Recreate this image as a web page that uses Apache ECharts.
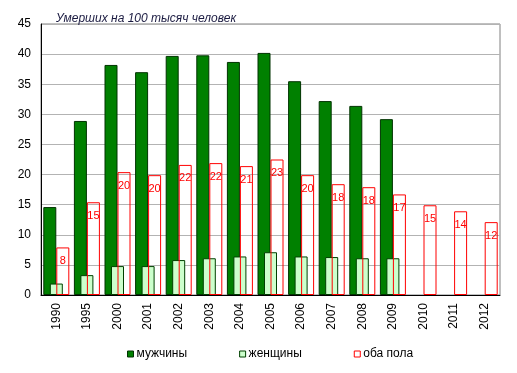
<!DOCTYPE html>
<html><head><meta charset="utf-8">
<script src="https://cdn.jsdelivr.net/npm/echarts@6/dist/echarts.min.js"></script>
<style>html,body{margin:0;padding:0;background:#fff}#c{width:517px;height:373px}</style>
</head><body><div id="c"></div>
<script>
const years = ['1990','1995','2000','2001','2002','2003','2004','2005','2006','2007','2008','2009','2010','2011','2012'];
const men   = [14.6, 28.9, 38.2, 37.0, 39.7, 39.8, 38.7, 40.2, 35.5, 32.2, 31.4, 29.2, null, null, null];
const women = [1.9, 3.3, 4.8, 4.8, 5.8, 6.1, 6.4, 7.1, 6.4, 6.3, 6.1, 6.1, null, null, null];
const both  = [7.9, 15.4, 20.4, 19.9, 21.6, 21.9, 21.4, 22.5, 19.9, 18.4, 17.9, 16.7, 14.9, 13.9, 12.1];
const yTicks = [0, 5, 10, 15, 20, 25, 30, 35, 40, 45];

const FONT = '"Liberation Sans", Arial, sans-serif';
const chart = echarts.init(document.getElementById('c'), null, {renderer: 'canvas'});
chart.setOption({
  animation: false,
  textStyle: {fontFamily: FONT},
  title: {
    text: 'Умерших на 100 тысяч человек',
    left: 51, top: 8,
    textStyle: {fontFamily: FONT, fontStyle: 'italic', fontWeight: 'normal', fontSize: 12, color: '#1a1a40'}
  },
  grid: {left: 41, right: 17, top: 24, bottom: 78, show: true, borderColor: '#808080', borderWidth: 1},
  legend: {
    bottom: 8, left: 122,
    itemWidth: 6, itemHeight: 6, itemGap: 52,
    textStyle: {fontFamily: FONT, fontSize: 12, color: '#000', padding: [0, 0, 0, -2]},
    data: [
      {name: 'мужчины', icon: 'rect', itemStyle: {color: '#008000', borderColor: '#003300', borderWidth: 1}},
      {name: 'женщины', icon: 'rect', itemStyle: {color: '#ccffcc', borderColor: '#004000', borderWidth: 1}},
      {name: 'оба пола', icon: 'rect', itemStyle: {color: '#fff', borderColor: '#ff0000', borderWidth: 1}}
    ]
  },
  xAxis: {
    type: 'category', data: years,
    axisLine: {lineStyle: {color: '#000', width: 1}},
    axisTick: {show: false},
    axisLabel: {rotate: 90, fontFamily: FONT, fontSize: 12, color: '#000', margin: 8}
  },
  yAxis: {
    type: 'value', min: yTicks[0], max: yTicks[yTicks.length - 1], interval: 5,
    axisLine: {show: true, lineStyle: {color: '#000', width: 1}},
    axisTick: {show: false},
    axisLabel: {fontFamily: FONT, fontSize: 12, color: '#000', margin: 10},
    splitLine: {lineStyle: {color: '#b3b3b3', width: 1}}
  },
  series: [
    {name: 'мужчины', type: 'bar', data: men, barWidth: 13, barGap: '-50%',
     itemStyle: {color: '#008000', borderColor: '#003300', borderWidth: 1}},
    {name: 'женщины', type: 'bar', data: women, barWidth: 13, barGap: '-50%',
     itemStyle: {color: '#ccffcc', borderColor: '#004000', borderWidth: 1}},
    {name: 'оба пола', type: 'bar', data: both, barWidth: 13, barGap: '-50%',
     itemStyle: {color: 'rgba(0,0,0,0)', borderColor: '#ff0000', borderWidth: 1},
     label: {show: true, position: 'insideTop', distance: 8, color: '#ff0000', fontFamily: FONT, fontSize: 11,
             formatter: p => Math.round(p.value)}}
  ]
});
</script></body></html>
